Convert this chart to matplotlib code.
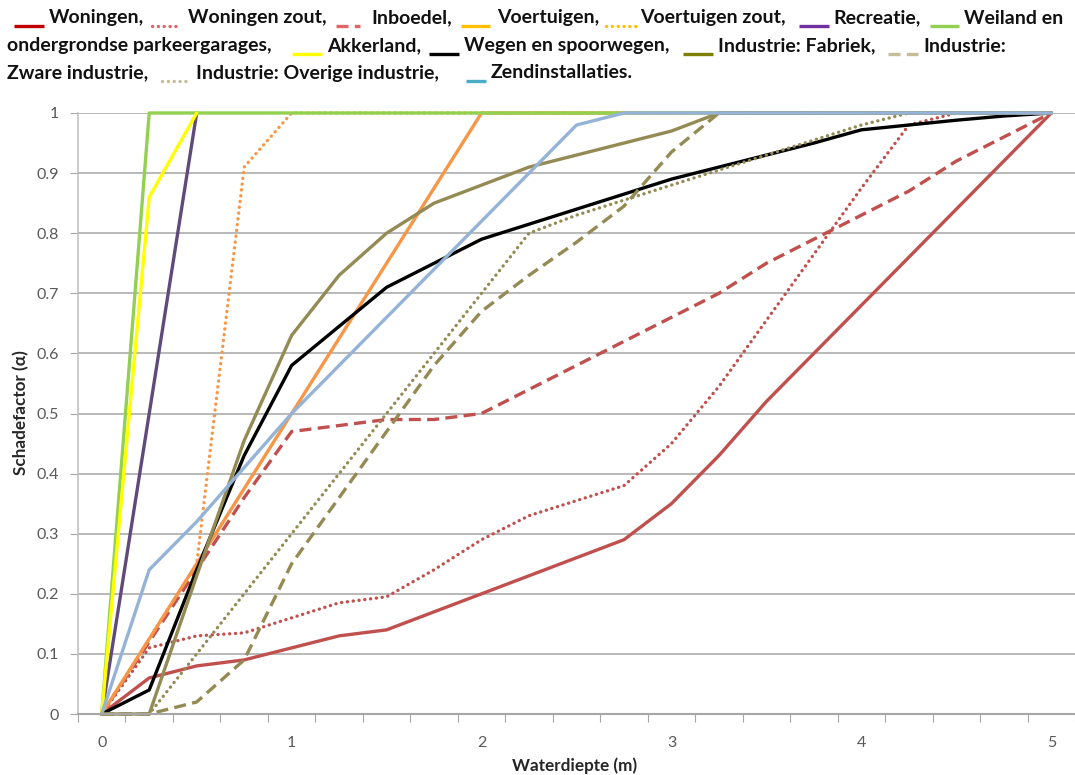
import numpy as np
import matplotlib
matplotlib.use("Agg")
import matplotlib.pyplot as plt
from matplotlib.lines import Line2D

nan = float("nan")

# ---- data (category axis: water depth in m) ----
depth = [0, 0.25, 0.5, 0.75, 1, 1.25, 1.5, 1.75, 2, 2.25, 2.5, 2.75,
         3, 3.25, 3.5, 3.75, 4, 4.25, 4.5, 4.75, 5]
woningen = [0, 0.06, 0.08, 0.09, 0.11, 0.13, 0.14, 0.17, 0.20, 0.23, 0.26, 0.29,
            0.35, 0.43, 0.52, 0.60, 0.68, 0.76, 0.84, 0.92, 1.00]
woningen_zout = [0, 0.11, 0.13, 0.135, 0.16, 0.185, 0.195, 0.24, 0.29, 0.33, 0.355, 0.38,
                 0.45, 0.545, 0.655, 0.765, 0.875, 0.98, 1.0, 1.0, 1.0]
inboedel = [0, 0.12, 0.24, 0.36, 0.47, 0.48, 0.49, 0.49, 0.50, 0.54, 0.58, 0.62,
            0.66, 0.70, 0.75, 0.79, 0.83, 0.87, 0.92, 0.96, 1.00]
voertuigen = [0, 0.125, 0.25, 0.375, 0.5, 0.625, 0.75, 0.875, 1.0, 1.0, 1.0, 1.0,
              1.0, 1.0, 1.0, 1.0, 1.0, 1.0, 1.0, 1.0, 1.0]
voertuigen_zout = [0, 0.125, 0.25, 0.91, 1.0, 1.0, 1.0, 1.0, 1.0, 1.0, 1.0, 1.0,
                   1.0, 1.0, 1.0, 1.0, 1.0, 1.0, 1.0, 1.0, 1.0]
recreatie = [0, 0.5, 1.0, nan, nan, nan, nan, nan, nan, nan, nan, nan,
             nan, nan, nan, nan, nan, nan, nan, nan, nan]
weiland = [0, 1.0, 1.0, 1.0, 1.0, 1.0, 1.0, 1.0, 1.0, 1.0, 1.0, 1.0,
           1.0, 1.0, 1.0, 1.0, 1.0, 1.0, 1.0, 1.0, 1.0]
akkerland = [0, 0.86, 1.0, nan, nan, nan, nan, nan, nan, nan, nan, nan,
             nan, nan, nan, nan, nan, nan, nan, nan, nan]
wegen = [0, 0.04, 0.24, 0.43, 0.58, 0.645, 0.71, 0.75, 0.79, 0.815, 0.84, 0.865,
         0.89, 0.91, 0.93, 0.95, 0.972, 0.98, 0.988, 0.995, 1.0]
fabriek = [0, 0, 0.23, 0.455, 0.63, 0.73, 0.80, 0.85, 0.88, 0.91, 0.93, 0.95,
           0.97, 1.0, 1.0, 1.0, 1.0, 1.0, 1.0, 1.0, 1.0]
zware = [0, 0, 0.02, 0.09, 0.25, 0.36, 0.47, 0.58, 0.67, 0.73, 0.785, 0.845,
         0.935, 1.0, 1.0, 1.0, 1.0, 1.0, 1.0, 1.0, 1.0]
overige = [0, 0, 0.10, 0.20, 0.30, 0.40, 0.50, 0.60, 0.70, 0.80, 0.83, 0.855,
           0.88, 0.905, 0.93, 0.955, 0.98, 1.0, 1.0, 1.0, 1.0]
zend = [0, 0.24, 0.32, 0.41, 0.50, 0.58, 0.66, 0.74, 0.82, 0.90, 0.98, 1.0,
        1.0, 1.0, 1.0, 1.0, 1.0, 1.0, 1.0, 1.0, 1.0]

xtick_labels = ["0", "1", "2", "3", "4", "5"]
ytick_values = [0, 0.1, 0.2, 0.3, 0.4, 0.5, 0.6, 0.7, 0.8, 0.9, 1]
ytick_labels = ["0", "0.1", "0.2", "0.3", "0.4", "0.5", "0.6", "0.7", "0.8", "0.9", "1"]

RED = "#C0504D"
ORANGE = "#F79646"
PURPLE = "#604A7B"
GREEN = "#92D050"
YELLOW = "#FFFF00"
BLACK = "#000000"
OLIVE = "#948A54"
BLUE = "#95B3D7"

SOLID = "-"
DOT = (0, (0.05, 1.7))
DASH = (0, (3.6, 1.9))

series = [
    (woningen, RED, SOLID),
    (woningen_zout, RED, DOT),
    (inboedel, RED, DASH),
    (voertuigen, ORANGE, SOLID),
    (voertuigen_zout, ORANGE, DOT),
    (recreatie, PURPLE, SOLID),
    (weiland, GREEN, SOLID),
    (akkerland, YELLOW, SOLID),
    (wegen, BLACK, SOLID),
    (fabriek, OLIVE, SOLID),
    (zware, OLIVE, DASH),
    (overige, OLIVE, DOT),
    (zend, BLUE, SOLID),
]

W, H = 1075, 775
fig = plt.figure(figsize=(W / 100, H / 100), dpi=100)
fig.patch.set_facecolor("white")

def fx(px):
    return px / W

def fy(py):
    return 1 - py / H

ax_left, ax_right, ax_top, ax_bottom = 78, 1075, 113, 714
ax = fig.add_axes([fx(ax_left), fy(ax_bottom), fx(ax_right - ax_left), fy(ax_top) - fy(ax_bottom)])

n = len(depth)
idx = np.arange(n)
for vals, col, ls in series:
    capstyle = "round" if ls is DOT else "butt"
    ax.plot(idx, vals, color=col, linestyle=ls, linewidth=2.4,
            dash_capstyle=capstyle, solid_capstyle="round", solid_joinstyle="round",
            clip_on=False)

ax.set_xlim(-0.5, n - 0.5)
ax.set_ylim(0, 1)

# y axis
ax.set_yticks(ytick_values)
ax.set_yticklabels(ytick_labels, fontfamily="Lato", fontsize=11.5, color="#595959")
ax.yaxis.grid(True, color="#A6A6A6", linewidth=1.1)
ax.set_axisbelow(True)
ax.tick_params(axis="y", length=6, color="#A6A6A6", pad=8)

# x axis: major ticks at category boundaries, labels at every 4th category
ax.set_xticks(np.arange(-0.5, n, 1.0))
ax.set_xticklabels([])
ax.tick_params(axis="x", length=6, color="#A6A6A6")
label_pos = [depth.index(float(t)) for t in xtick_labels]
ax.set_xticks(label_pos, minor=True)
ax.set_xticklabels(xtick_labels, minor=True, fontfamily="Lato", fontsize=11.5, color="#595959")
ax.tick_params(axis="x", which="minor", length=0, pad=16)

for s in ["top", "right"]:
    ax.spines[s].set_visible(False)
ax.spines["left"].set_color("#BFBFBF")
ax.spines["left"].set_linewidth(1.1)
ax.spines["bottom"].set_color("#A6A6A6")
ax.spines["bottom"].set_linewidth(1.5)

fig.text(fx(575), fy(766), "Waterdiepte (m)", ha="center", va="center",
         fontfamily="Lato", fontweight="bold", fontsize=12.3, color="#262626")
fig.text(fx(21), fy(413), "Schadefactor (α)", ha="center", va="center", rotation=90,
         fontfamily=["Lato", "DejaVu Sans"], fontweight="bold", fontsize=12.3, color="#262626")

# ---- legend written as wrapped text with line samples ----
LFONT = dict(fontfamily="Lato", fontweight="bold", fontsize=14, color="#111111")
rows_y = [18, 46, 73]

legend_items = [
    # (row, x0, x1, color, style, text_x, text)
    (0, 14, 44, "#C00000", SOLID, 49, "Woningen,"),
    (0, 152, 178, "#E06666", DOT, 188, "Woningen zout,"),
    (0, 336, 360, "#E06666", DASH, 371, "Inboedel,"),
    (0, 461, 490, "#FFC000", SOLID, 497, "Voertuigen,"),
    (0, 606, 636, "#FFC000", DOT, 640, "Voertuigen zout,"),
    (0, 799, 829, "#7030A0", SOLID, 833, "Recreatie,"),
    (0, 930, 959, "#92D050", SOLID, 964, "Weiland en"),
    (1, None, None, None, None, 7, "ondergrondse parkeergarages,"),
    (1, 292, 322, "#FFFF00", SOLID, 327, "Akkerland,"),
    (1, 429, 459, "#000000", SOLID, 464, "Wegen en spoorwegen,"),
    (1, 683, 713, "#808000", SOLID, 718, "Industrie: Fabriek,"),
    (1, 888, 918, "#C4BD97", DASH, 923, "Industrie:"),
    (2, None, None, None, None, 7, "Zware industrie,"),
    (2, 162, 191, "#C4BD97", DOT, 196, "Industrie: Overige industrie,"),
    (2, 466, 486, "#4BACC6", SOLID, 491, "Zendinstallaties."),
]

for row, x0, x1, col, ls, tx, txt in legend_items:
    yc = rows_y[row]
    if x0 is not None:
        capstyle = "round" if ls is DOT else "butt"
        fig.add_artist(Line2D([fx(x0), fx(x1)], [fy(yc + 8), fy(yc + 8)], color=col,
                              linestyle=ls, linewidth=2.4, dash_capstyle=capstyle,
                              solid_capstyle="butt"))
    fig.text(fx(tx), fy(yc), txt, ha="left", va="center", **LFONT)

fig.savefig("out.png", dpi=100, facecolor="white")
